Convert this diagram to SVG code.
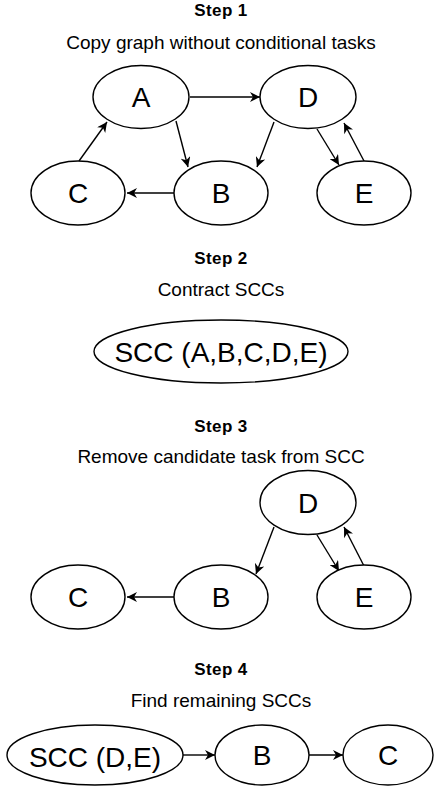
<svg xmlns="http://www.w3.org/2000/svg" width="435" height="786" viewBox="0 0 435 786">
<defs>
<marker id="arr" viewBox="0 0 10 10" refX="10" refY="5" markerWidth="12" markerHeight="10" orient="auto" markerUnits="userSpaceOnUse">
<path d="M0,0 L10,5 L0,10 L3,5 Z" fill="#000"/>
</marker>
<style>
.n ellipse{fill:#fff;stroke:#000;stroke-width:1.4}
.n text{font-family:"Liberation Sans",Arial,sans-serif;font-size:28px;text-anchor:middle;fill:#000}
.t{font-family:"Liberation Sans",Arial,sans-serif;font-size:17px;font-weight:bold;text-anchor:middle;fill:#000;letter-spacing:0.4px}
.s{font-family:"Liberation Sans",Arial,sans-serif;font-size:19px;text-anchor:middle;fill:#000}
.e line{stroke:#000;stroke-width:1.4;marker-end:url(#arr)}
</style>
</defs>
<rect width="435" height="786" fill="#fff"/>
<g id="labels">
<text class="t" x="221" y="16">Step 1</text>
<text class="s" x="221" y="49">Copy graph without conditional tasks</text>
<text class="t" x="221" y="264">Step 2</text>
<text class="s" x="221" y="296">Contract SCCs</text>
<text class="t" x="221" y="432">Step 3</text>
<text class="s" x="221" y="463">Remove candidate task from SCC</text>
<text class="t" x="221" y="675">Step 4</text>
<text class="s" x="221" y="707">Find remaining SCCs</text>
</g>
<g class="e" id="connectors">
<line x1="190" y1="97" x2="260" y2="97"/>
<line x1="176" y1="121" x2="188" y2="167"/>
<line x1="79" y1="161" x2="107" y2="122"/>
<line x1="174" y1="193" x2="127" y2="193"/>
<line x1="274" y1="122" x2="257" y2="167"/>
<line x1="317" y1="129" x2="339" y2="165"/>
<line x1="364" y1="161" x2="344" y2="123"/>
<line x1="274" y1="527" x2="256" y2="574"/>
<line x1="317" y1="535" x2="339" y2="571"/>
<line x1="364" y1="566" x2="344" y2="527"/>
<line x1="174" y1="597" x2="127" y2="597"/>
<line x1="183" y1="755" x2="215" y2="755"/>
<line x1="309" y1="755" x2="343" y2="755"/>
</g>
<g class="n" id="s1A"><ellipse cx="141" cy="97" rx="48" ry="31.5"/><text x="141" y="107">A</text></g>
<g class="n" id="s1D"><ellipse cx="308" cy="97" rx="48" ry="31.5"/><text x="308" y="107">D</text></g>
<g class="n" id="s1C"><ellipse cx="78" cy="193" rx="47" ry="32"/><text x="78" y="203">C</text></g>
<g class="n" id="s1B"><ellipse cx="221" cy="193" rx="47" ry="32"/><text x="221" y="203">B</text></g>
<g class="n" id="s1E"><ellipse cx="364" cy="193" rx="47" ry="32"/><text x="364" y="203">E</text></g>
<g class="n" id="s2SCC"><ellipse cx="221" cy="351.5" rx="127" ry="31.5"/><text x="221" y="362">SCC (A,B,C,D,E)</text></g>
<g class="n" id="s3D"><ellipse cx="308" cy="502.5" rx="48" ry="32"/><text x="308" y="512.5">D</text></g>
<g class="n" id="s3C"><ellipse cx="78" cy="597" rx="47" ry="32"/><text x="78" y="607">C</text></g>
<g class="n" id="s3B"><ellipse cx="221" cy="597" rx="47" ry="32"/><text x="221" y="607">B</text></g>
<g class="n" id="s3E"><ellipse cx="364" cy="597" rx="47" ry="32"/><text x="364" y="607">E</text></g>
<g class="n" id="s4SCC"><ellipse cx="95" cy="755" rx="88" ry="30"/><text x="95" y="767">SCC (D,E)</text></g>
<g class="n" id="s4B"><ellipse cx="262" cy="755" rx="47" ry="30"/><text x="262" y="765">B</text></g>
<g class="n" id="s4C"><ellipse cx="388" cy="755" rx="45" ry="30"/><text x="388" y="765">C</text></g>
</svg>
